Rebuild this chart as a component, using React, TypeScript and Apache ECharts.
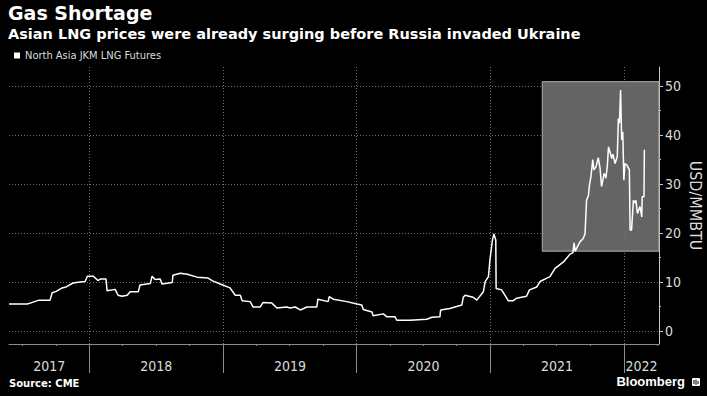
import React, { useEffect, useRef } from "react";
import * as echarts from "echarts";

// ---- Data ----
const SERIES_NAME = "North Asia JKM LNG Futures";
const TITLE = "Gas Shortage";
const SUBTITLE = "Asian LNG prices were already surging before Russia invaded Ukraine";
const SOURCE = "Source: CME";
const Y_NAME = "USD/MMBTU";

const dates: string[] = [
  "2017-05-26", "2017-07-15", "2017-07-23", "2017-08-16", "2017-09-15", "2017-09-21",
  "2017-10-02", "2017-10-18", "2017-10-29", "2017-11-17", "2017-12-06", "2017-12-20",
  "2017-12-26", "2018-01-11", "2018-01-24", "2018-01-30", "2018-02-15", "2018-02-18",
  "2018-03-12", "2018-03-20", "2018-03-31", "2018-04-14", "2018-04-22", "2018-05-14",
  "2018-05-19", "2018-06-16", "2018-06-21", "2018-06-29", "2018-07-13", "2018-07-18",
  "2018-08-15", "2018-08-17", "2018-09-06", "2018-09-25", "2018-10-22", "2018-11-21",
  "2018-12-02", "2018-12-24", "2019-01-20", "2019-02-03", "2019-02-17", "2019-02-22",
  "2019-03-16", "2019-03-24", "2019-04-12", "2019-04-20", "2019-05-14", "2019-05-28",
  "2019-06-24", "2019-07-03", "2019-07-17", "2019-07-31", "2019-08-18", "2019-09-14",
  "2019-09-17", "2019-10-15", "2019-10-18", "2019-10-29", "2019-12-05", "2020-01-02",
  "2020-01-15", "2020-01-19", "2020-02-12", "2020-02-15", "2020-03-14", "2020-03-24",
  "2020-04-15", "2020-04-20", "2020-05-26", "2020-07-11", "2020-07-25", "2020-08-16",
  "2020-08-18", "2020-09-12", "2020-10-15", "2020-10-19", "2020-10-24", "2020-11-15",
  "2020-11-25", "2020-12-13", "2020-12-18", "2020-12-27", "2020-12-31", "2021-01-07",
  "2021-01-11", "2021-01-16", "2021-01-17", "2021-02-01", "2021-02-15", "2021-02-19",
  "2021-03-05", "2021-03-14", "2021-04-10", "2021-04-18", "2021-05-08", "2021-05-17",
  "2021-06-13", "2021-06-27", "2021-07-20", "2021-08-07", "2021-08-15", "2021-08-18",
  "2021-08-21", "2021-08-29", "2021-09-03", "2021-09-12", "2021-09-17", "2021-09-21",
  "2021-09-26", "2021-09-29", "2021-10-03", "2021-10-08", "2021-10-11", "2021-10-17",
  "2021-10-23", "2021-10-28", "2021-11-01", "2021-11-08", "2021-11-13", "2021-11-17",
  "2021-11-20", "2021-11-24", "2021-11-29", "2021-12-02", "2021-12-08", "2021-12-14",
  "2021-12-17", "2021-12-20", "2021-12-23", "2021-12-26", "2021-12-29", "2022-01-01",
  "2022-01-04", "2022-01-09", "2022-01-16", "2022-01-18", "2022-01-22", "2022-01-27",
  "2022-02-01", "2022-02-03", "2022-02-07", "2022-02-14", "2022-02-19", "2022-02-20",
  "2022-02-25", "2022-02-26",
];

const prices: number[] = [
  5.5, 5.5, 5.7, 6.3, 6.3, 7.8,
  8.1, 8.8, 9.0, 9.8, 10.0, 10.1,
  11.2, 11.2, 10.3, 10.6, 10.6, 8.2,
  8.5, 7.3, 7.1, 7.3, 8.0, 8.0,
  9.4, 9.7, 11.2, 10.5, 10.6, 9.6,
  9.9, 11.4, 11.8, 11.6, 11.0, 10.8,
  10.3, 9.6, 8.8, 7.3, 7.3, 6.2,
  6.0, 4.9, 4.9, 5.8, 5.7, 4.7,
  4.9, 4.7, 4.9, 4.3, 4.9, 4.9,
  6.5, 6.0, 7.0, 6.5, 6.0, 5.5,
  5.3, 4.4, 3.9, 3.1, 3.5, 2.9,
  2.9, 2.2, 2.2, 2.4, 2.8, 2.9,
  4.3, 4.6, 5.3, 6.9, 7.3, 6.9,
  6.3, 8.0, 10.1, 11.1, 14.5, 18.6,
  19.8, 18.6, 8.7, 8.4, 6.7, 6.2,
  6.2, 6.7, 7.1, 8.4, 9.0, 10.1,
  11.1, 12.8, 14.1, 15.7, 16.0, 18.0,
  16.3, 17.5, 18.2, 18.9, 19.9, 26.7,
  27.6, 29.8, 31.5, 35.0, 32.9, 33.5,
  35.4, 33.2, 29.5, 32.2, 31.2, 33.9,
  37.6, 36.6, 35.2, 36.1, 34.2, 35.6,
  43.4, 42.4, 49.2, 39.0, 40.7, 30.8,
  34.2, 33.9, 32.9, 20.6, 20.6, 26.7,
  26.1, 26.7, 24.0, 25.4, 23.3, 27.4,
  27.4, 37.0,
];

const years: number[] = [2017, 2018, 2019, 2020, 2021, 2022];
const yTickValues: number[] = [0, 10, 20, 30, 40, 50];
const yMinorTickValues: number[] = [5, 15, 25, 35, 45];

const X_START = "2017-05-26";
const X_END = "2022-04-07";
const Y_MIN = -2.65;
const Y_MAX = 53.9;

// highlighted window (dates / prices)
const HIGHLIGHT_FROM = "2021-05-23";
const HIGHLIGHT_LOW = 16.3;
const HIGHLIGHT_HIGH = 50.9;

// ---- helpers ----
function toYear(s: string): number {
  const [y, m, d] = s.split("-").map(Number);
  const t = Date.UTC(y, m - 1, d);
  const a = Date.UTC(y, 0, 1);
  const b = Date.UTC(y + 1, 0, 1);
  return y + (t - a) / (b - a);
}

const FONT_NARROW = "'Liberation Sans Narrow', 'DejaVu Sans Condensed', 'Arial Narrow', sans-serif";
const FONT_BOLD = "'DejaVu Sans', Verdana, sans-serif";

export default function App() {
  const ref = useRef<HTMLDivElement>(null);

  useEffect(() => {
    if (!ref.current) return;
    const chart = echarts.init(ref.current, undefined, { renderer: "svg" });

    const xMin = toYear(X_START);
    const xMax = toYear(X_END);
    const data = dates.map((d, i) => [toYear(d), prices[i]]);

    const yearBoundaries = years.filter((y) => y > xMin && y < xMax);
    const yearLabelPos = years.map((y) => (Math.max(y, xMin) + Math.min(y + 1, xMax)) / 2);
    const quarterTicks: number[] = [];
    years.forEach((y) => {
      ["04-01", "07-01", "10-01"].forEach((md) => {
        const v = toYear(`${y}-${md}`);
        if (v > xMin && v < xMax) quarterTicks.push(v);
      });
    });

    const option: any = {
      animation: false,
      backgroundColor: "#000",
      title: [
        {
          text: TITLE, left: 8, top: 3, padding: 0,
          textStyle: { color: "#fff", fontSize: 19, fontWeight: "bold", fontFamily: FONT_BOLD },
        },
        {
          text: SUBTITLE, left: 8, top: 26, padding: 0,
          textStyle: { color: "#fff", fontSize: 14.5, fontWeight: "bold", fontFamily: FONT_BOLD },
        },
        {
          text: SOURCE, left: 9, top: 378, padding: 0,
          textStyle: { color: "#fff", fontSize: 10, fontWeight: "bold", fontFamily: FONT_BOLD },
        },
        {
          text: "Bloomberg", right: 22, top: 375, padding: 0,
          textStyle: { color: "#fff", fontSize: 13, fontWeight: "bold", fontFamily: "'Liberation Sans', Arial, sans-serif" },
        },
      ],
      legend: {
        data: [{ name: SERIES_NAME, icon: "rect" }],
        left: 14, top: 50, padding: 0,
        itemWidth: 6, itemHeight: 6,
        textStyle: { color: "#dcdcdc", fontSize: 11, fontFamily: FONT_NARROW },
      },
      grid: { left: 9, right: 48, top: 67, bottom: 52, containLabel: false, outerBoundsMode: "none" },
      xAxis: [
        {
          type: "value", min: xMin, max: xMax, position: "bottom",
          axisLine: { show: true, onZero: false, lineStyle: { color: "#8c8c8c", width: 1 } },
          axisTick: { show: true, customValues: yearBoundaries, length: 29, lineStyle: { color: "#8c8c8c", width: 1 } },
          axisLabel: {
            show: true, customValues: yearLabelPos, margin: 15,
            formatter: (v: number) => String(Math.floor(v)),
            color: "#dcdcdc", fontSize: 14, fontFamily: FONT_NARROW,
          },
          splitLine: { show: false },
        },
        {
          type: "value", min: xMin, max: xMax, position: "bottom", offset: 0,
          axisLine: { show: false, onZero: false },
          axisTick: { show: true, customValues: quarterTicks, length: 2, lineStyle: { color: "#8c8c8c", width: 1 } },
          axisLabel: { show: false },
          splitLine: { show: false },
        },
      ],
      yAxis: [
        {
          type: "value", min: Y_MIN, max: Y_MAX, position: "right",
          axisLine: { show: true, onZero: false, lineStyle: { color: "#c8c8c8", width: 1 } },
          axisTick: { show: true, customValues: yTickValues, length: 4, lineStyle: { color: "#c8c8c8", width: 1 } },
          axisLabel: { show: true, customValues: yTickValues, margin: 6, color: "#dcdcdc", fontSize: 14, fontFamily: FONT_NARROW },
          splitLine: { show: false },
          name: Y_NAME, nameLocation: "middle", nameRotate: -90, nameGap: 28, nameMoveOverlap: false,
          nameTextStyle: { color: "#dcdcdc", fontSize: 16, fontFamily: FONT_NARROW },
        },
        {
          type: "value", min: Y_MIN, max: Y_MAX, position: "right", offset: 0,
          axisLine: { show: false, onZero: false },
          axisTick: { show: true, customValues: yMinorTickValues, length: 2, lineStyle: { color: "#c8c8c8", width: 1 } },
          axisLabel: { show: false },
          splitLine: { show: false },
        },
      ],
      series: [
        {
          name: SERIES_NAME,
          type: "line",
          xAxisIndex: 0, yAxisIndex: 0,
          data,
          showSymbol: false, symbol: "none",
          lineStyle: { color: "#ffffff", width: 1.5 },
          itemStyle: { color: "#ffffff" },
          z: 3,
          markArea: {
            silent: true, z: 1,
            itemStyle: { color: "#646464", borderColor: "#b0b0b0", borderWidth: 1 },
            data: [[
              { xAxis: toYear(HIGHLIGHT_FROM), yAxis: HIGHLIGHT_LOW },
              { xAxis: xMax, yAxis: HIGHLIGHT_HIGH },
            ]],
          },
          markLine: {
            silent: true, z: 2, symbol: ["none", "none"],
            label: { show: false },
            lineStyle: { color: "#6e6e6e", type: [1, 2], width: 1 },
            data: [
              ...yearBoundaries.map((y) => ({ xAxis: y })),
              ...yTickValues.map((v) => ({ yAxis: v })),
            ],
          },
        },
      ],
      graphic: [
        {
          type: "group", left: 692, top: 378,
          children: [
            { type: "rect", shape: { x: 0, y: 0, width: 8, height: 8, r: 1 }, style: { fill: "#fff" } },
            { type: "rect", shape: { x: 1.5, y: 2, width: 1, height: 4 }, style: { fill: "#000" } },
            { type: "rect", shape: { x: 3.5, y: 1.5, width: 1, height: 5.5 }, style: { fill: "#000" } },
            { type: "rect", shape: { x: 5.5, y: 3, width: 1, height: 3 }, style: { fill: "#000" } },
          ],
        },
      ],
    };

    chart.setOption(option);
    return () => chart.dispose();
  }, []);

  return (
    <div
      ref={ref}
      style={{ position: "fixed", left: 0, top: 0, width: 707, height: 396, background: "#000" }}
    />
  );
}
